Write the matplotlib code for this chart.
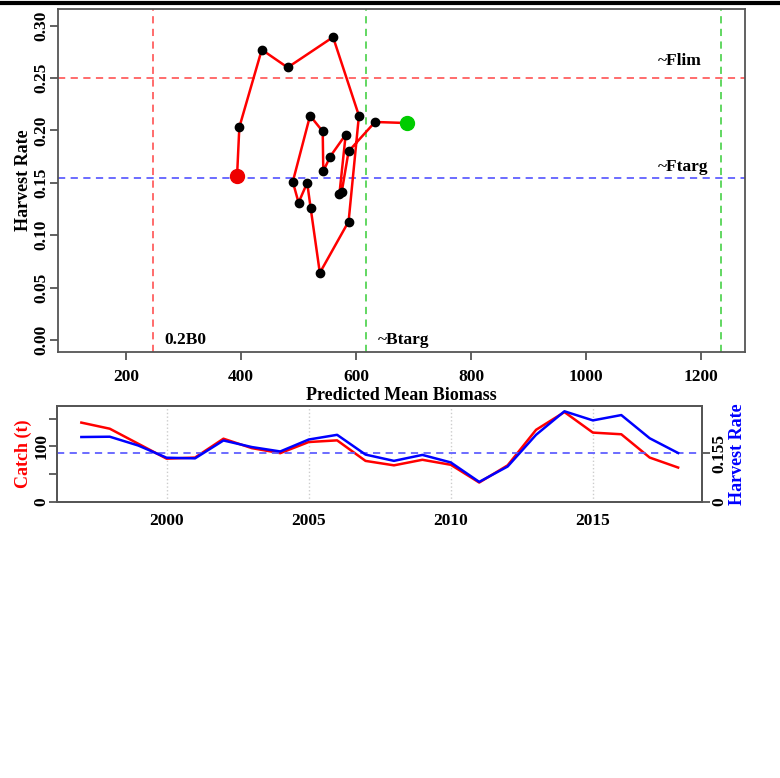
import matplotlib
matplotlib.use("Agg")
import matplotlib.pyplot as plt
from matplotlib.lines import Line2D

# phase plot data (1997 -> 2018)
years = [1997, 1998, 1999, 2000, 2001, 2002, 2003, 2004, 2005, 2006, 2007,
         2008, 2009, 2010, 2011, 2012, 2013, 2014, 2015, 2016, 2017, 2018]
biomass = [688, 633, 587, 575, 571, 582, 555, 543, 542, 520, 490,
           500, 515, 521, 537, 587, 605, 560, 481, 436, 397, 393]
harvest = [0.207, 0.208, 0.180, 0.141, 0.139, 0.196, 0.175, 0.161, 0.199, 0.214, 0.151,
           0.131, 0.150, 0.126, 0.064, 0.113, 0.214, 0.289, 0.260, 0.277, 0.203, 0.156]
catch = [143, 132, 105, 78, 80, 114, 97, 88, 108, 111, 74,
         66, 76, 67, 35, 66, 130, 162, 125, 122, 80, 62]

B0 = 1235
Flim = 0.25
Ftarg = 0.155

plt.rcParams['font.family'] = 'Liberation Serif'
plt.rcParams['font.weight'] = 'bold'
frame_col = '#555555'

fig = plt.figure(figsize=(7.8, 7.78), dpi=100)

# ---- top: phase plot
ax = fig.add_axes([0.0744, 0.5476, 0.8808, 0.4408])
ax.axvline(0.2 * B0, color='#ff6060', ls=(0, (4, 3)), lw=1.3)
ax.axvline(0.5 * B0, color='#55d455', ls=(0, (4, 3)), lw=1.3)
ax.axvline(B0, color='#55d455', ls=(0, (4, 3)), lw=1.3)
ax.axhline(Flim, color='#ff6060', ls=(0, (4, 3)), lw=1.3)
ax.axhline(Ftarg, color='#6060ff', ls=(0, (4, 3)), lw=1.3)

ax.plot(biomass, harvest, color='red', lw=1.8, zorder=3)
ax.plot(biomass[1:-1], harvest[1:-1], 'o', color='black', ms=6, zorder=4)
ax.plot(biomass[0], harvest[0], 'o', color='#00cc00', ms=10, zorder=5)
ax.plot(biomass[-1], harvest[-1], 'o', color='#ee0000', ms=10, zorder=5)

ax.text(0.2 * B0 + 20, 0.0, '0.2B0', fontsize=12.5, fontweight='bold', va='center', ha='left')
ax.text(0.5 * B0 + 20, 0.0, '~Btarg', fontsize=12.5, fontweight='bold', va='center', ha='left')
ax.text(1125, Flim + 0.016, '~Flim', fontsize=12.5, fontweight='bold', va='center', ha='left')
ax.text(1125, Ftarg + 0.010, '~Ftarg', fontsize=12.5, fontweight='bold', va='center', ha='left')

ax.set_xlim(81.7, 1276.5)
ax.set_ylim(-0.0115, 0.3158)
ax.set_xticks([200, 400, 600, 800, 1000, 1200])
ax.set_yticks([0.0, 0.05, 0.10, 0.15, 0.20, 0.25, 0.30])
ax.set_yticklabels(['0.00', '0.05', '0.10', '0.15', '0.20', '0.25', '0.30'])
for lab in ax.get_yticklabels():
    lab.set_rotation(90)
    lab.set_va('center')
ax.tick_params(direction='out', length=6, width=1.3, color=frame_col, labelsize=12.5)
ax.tick_params(axis='x', pad=6)
ax.tick_params(axis='y', pad=0)
for s in ax.spines.values():
    s.set_color(frame_col)
    s.set_linewidth(1.3)
ax.set_xlabel('Predicted Mean Biomass', fontsize=13, fontweight='bold', labelpad=2)
ax.set_ylabel('Harvest Rate', fontsize=13, fontweight='bold', labelpad=1)

# ---- bottom: catch and harvest rate time series
bx = fig.add_axes([0.0737, 0.3548, 0.8263, 0.1234])
for yr in [2000, 2005, 2010, 2015]:
    bx.axvline(yr, color='#cccccc', ls=':', lw=1)
bx.plot(years, catch, color='red', lw=1.8, zorder=3)
bx.set_xlim(1996.16, 2018.84)
bx.set_ylim(0, 173)
bx.set_yticks([0, 50, 100, 150])
bx.set_yticklabels(['0', '', '100', ''])
bx.set_xticks([2000, 2005, 2010, 2015])
bx.tick_params(axis='x', length=0, pad=8, labelsize=12.5)
bx.tick_params(axis='y', direction='out', length=6, width=1.3, color=frame_col, labelsize=12.5, pad=0)
for lab in bx.get_yticklabels():
    lab.set_rotation(90)
    lab.set_va('center')
bx.set_ylabel('Catch (t)', color='red', fontsize=13, fontweight='bold', labelpad=1)

rx = bx.twinx()
rx.axhline(Ftarg, color='#6060ff', ls=(0, (4, 3)), lw=1.3)
rx.plot(years, harvest, color='blue', lw=1.8, zorder=3)
rx.set_ylim(0, 0.306)
rx.set_yticks([0, Ftarg])
rx.set_yticklabels(['0', '0.155'])
rx.tick_params(axis='y', direction='out', length=6, width=1.3, color=frame_col, labelsize=12.5, pad=1)
for lab in rx.get_yticklabels():
    lab.set_rotation(90)
    lab.set_va('center')
rx.set_ylabel('Harvest Rate', color='blue', fontsize=13, fontweight='bold', labelpad=1)
for a in (bx, rx):
    for s in a.spines.values():
        s.set_color(frame_col)
        s.set_linewidth(1.3)

# page rule across the top
fig.add_artist(Line2D([0, 1], [0.996, 0.996], lw=3, color='black', transform=fig.transFigure))

fig.savefig('out.png', dpi=100)
